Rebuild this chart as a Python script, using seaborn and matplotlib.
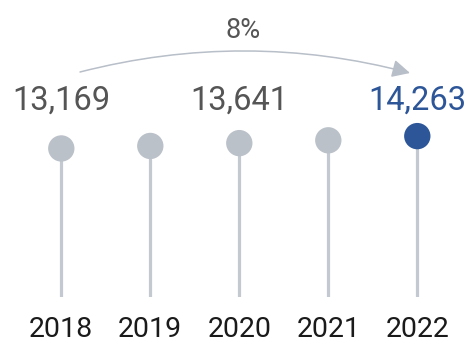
import matplotlib
matplotlib.use("Agg")
import matplotlib.pyplot as plt
import seaborn as sns
import pandas as pd

years = ["2018", "2019", "2020", "2021", "2022"]
values = [13169, 13390, 13641, 13890, 14263]
labelled = ["13,169", "", "13,641", "", "14,263"]
highlight = [False, False, False, False, True]
growth_label = "8%"

GRAY = "#bbc1c9"
STEM = "#c3c9d1"
BLUE = "#2d5699"
TEXT = "#555555"

sns.set_theme(style="white")
plt.rcParams["font.family"] = ["Roboto", "DejaVu Sans"]

df = pd.DataFrame({"year": years, "value": values, "hl": highlight})
df["pos"] = range(len(years))

W, H = 471, 347
fig = plt.figure(figsize=(W / 100, H / 100), dpi=100)
ax = fig.add_axes([0, 50 / H, 1, 297 / H])

ax.vlines(df["pos"], 0, df["value"], color=STEM, linewidth=2.3, zorder=1)
sns.scatterplot(data=df, x="pos", y="value", hue="hl", palette={False: GRAY, True: BLUE},
                s=360, edgecolor="none", legend=False, ax=ax, zorder=2)

px_per_unit = 89
xmin = -61.3 / px_per_unit
ax.set_xlim(xmin, xmin + W / px_per_unit)
ax.set_ylim(0, 26330)

ax.set_xticks(df["pos"])
ax.set_xticklabels(years, fontsize=20.5, color="#1a1a1a")
ax.tick_params(axis="x", length=0, pad=14)
ax.set_yticks([])
ax.set_xlabel("")
ax.set_ylabel("")
sns.despine(ax=ax, left=True, bottom=True)
ax.set_facecolor("none")

for p, lab, hl in zip(df["pos"], labelled, highlight):
    if lab:
        ax.text(p, 17400, lab, ha="center", va="center", fontsize=23.5,
                fontweight="normal", color=BLUE if hl else TEXT)

fig.text(243 / W, 1 - 30 / H, growth_label, ha="center", va="center",
         fontsize=19.5, fontweight="normal", color=TEXT)
ax.annotate("", xy=(410, H - 73), xycoords="figure pixels",
            xytext=(80, H - 72), textcoords="figure pixels",
            arrowprops=dict(arrowstyle="-|>,head_length=0.9,head_width=0.45",
                            connectionstyle="arc3,rad=-0.13",
                            color="#b8bfc8", lw=1.1, shrinkA=0, shrinkB=0))

fig.savefig("out.png", dpi=100)
